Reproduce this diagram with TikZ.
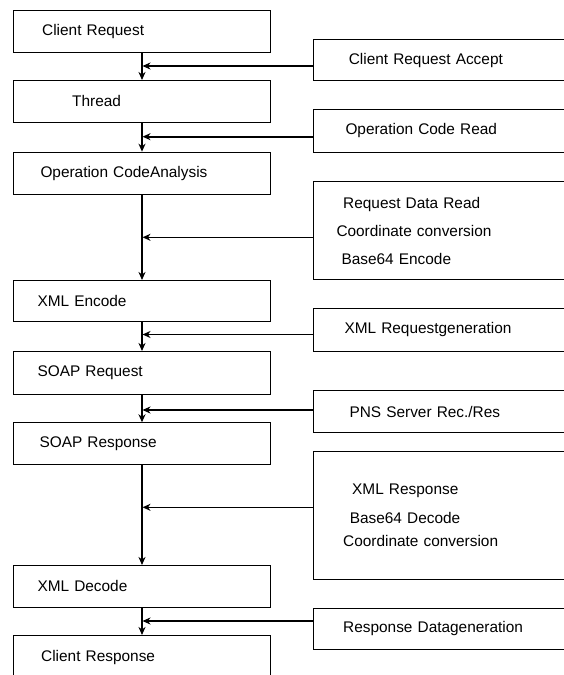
\documentclass[tikz,border=0pt]{standalone}
\usepackage{fontspec}
\setmainfont{Liberation Sans}
\usetikzlibrary{arrows.meta}
\begin{document}
\begin{tikzpicture}[x=1pt,y=-1pt,
  box/.style={draw=black, line width=1pt, rectangle, anchor=north west,
    inner xsep=0pt, inner ysep=0pt, align=left,
    font=\fontsize{15.4pt}{18pt}\selectfont},
  lbox/.style={box, text width=257.6pt, minimum width=257.6pt},
  rbox/.style={box, text width=300pt, minimum width=300pt},
  flow/.style={line width=1.6pt, -{Stealth[length=8pt,width=7pt,inset=2.5pt]}},
]
\useasboundingbox (0,0) rectangle (563,675);
% left column
\node[lbox, minimum height=41.7pt] (b1) at (12.7,10) {\hspace*{29pt}Client Request};
\node[lbox, minimum height=41.7pt] (b2) at (12.7,80) {\hspace*{59pt}Thread};
\node[lbox, minimum height=42.3pt] (b3) at (12.7,151.7) {\hspace*{27.3pt}Operation CodeAnalysis};
\node[lbox, minimum height=41pt] (b4) at (12.7,280) {\hspace*{24.3pt}XML Encode};
\node[lbox, minimum height=43.3pt] (b5) at (12.7,351) {\hspace*{24.3pt}SOAP Request};
\node[lbox, minimum height=42pt] (b6) at (12.7,422.3) {\hspace*{26.3pt}SOAP Response};
\node[lbox, minimum height=41.7pt] (b7) at (12.7,565) {\hspace*{24.3pt}XML Decode};
\node[lbox, minimum height=44pt] (b8) at (12.7,635) {\hspace*{28pt}Client Response};
% right column
\node[rbox, minimum height=40.7pt] (r1) at (313.3,39.3) {\hspace*{35pt}Client Request Accept};
\node[rbox, minimum height=42.4pt] (r2) at (313.3,109.3) {\hspace*{31.7pt}Operation Code Read};
\node[rbox, minimum height=98.3pt] (r3) at (313.3,181) {\hspace*{29.4pt}Request Data Read\\[10pt]\hspace*{22.7pt}Coordinate conversion\\[10pt]\hspace*{27.7pt}Base64 Encode};
\node[rbox, minimum height=42.4pt] (r4) at (313.3,308.3) {\hspace*{30.7pt}XML Requestgeneration};
\node[rbox, minimum height=42.3pt] (r5) at (313.3,390) {\hspace*{35.7pt}PNS Server Rec./Res};
\node[rbox, minimum height=128.3pt] (r6) at (313.3,450.7) {\hspace*{38.4pt}XML Response\\[10.7pt]\hspace*{36pt}Base64 Decode\\[5pt]\hspace*{29.4pt}Coordinate conversion};
\node[rbox, minimum height=41.6pt] (r7) at (313.3,607.7) {\hspace*{29.4pt}Response Datageneration};
% junctions on the main flow line
\coordinate (j1) at (142.5,66);
\coordinate (j2) at (142.5,136.7);
\coordinate (j3) at (142.5,237.3);
\coordinate (j4) at (142.5,334.5);
\coordinate (j5) at (142.5,410);
\coordinate (j6) at (142.5,507.3);
\coordinate (j7) at (142.5,621);
% vertical flow
\draw[flow] (b1.south) -- (b2.north);
\draw[flow] (b2.south) -- (b3.north);
\draw[flow] (b3.south) -- (b4.north);
\draw[flow] (b4.south) -- (b5.north);
\draw[flow] (b5.south) -- (b6.north);
\draw[flow] (b6.south) -- (b7.north);
\draw[flow] (b7.south) -- (b8.north);
% side inputs
\draw[flow] (r1.west |- j1) -- (j1);
\draw[flow] (r2.west |- j2) -- (j2);
\draw[flow] (r3.west |- j3) -- (j3);
\draw[flow] (r4.west |- j4) -- (j4);
\draw[flow] (r5.west |- j5) -- (j5);
\draw[flow] (r6.west |- j6) -- (j6);
\draw[flow] (r7.west |- j7) -- (j7);
\end{tikzpicture}
\end{document}
